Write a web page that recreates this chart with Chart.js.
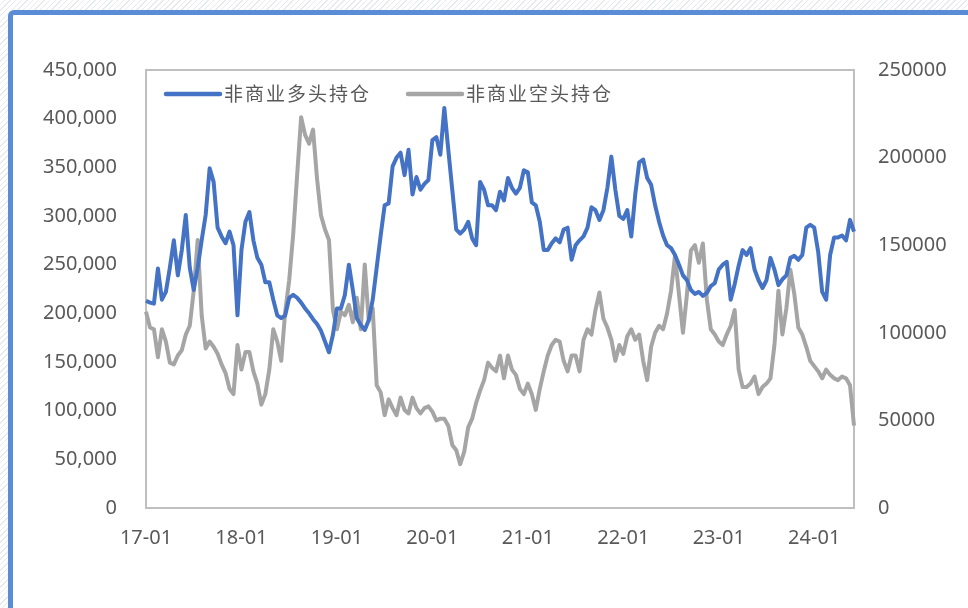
<!DOCTYPE html>
<html>
<head>
<meta charset="utf-8">
<script src="https://cdn.jsdelivr.net/npm/chart.js@4.4.1/dist/chart.umd.min.js"></script>
<style>
  html, body { margin: 0; padding: 0; }
  body {
    width: 968px; height: 608px; overflow: hidden; position: relative;
    background: repeating-linear-gradient(135deg, #ffffff 0 3px, #e6e9ee 3px 4px);
  }
  #frame {
    position: absolute; left: 8px; top: 10px; width: 990px; height: 640px;
    background: #fff; border: 5px solid #5b8cd6; border-radius: 6px;
    box-sizing: border-box;
  }
  #wrap { position: absolute; left: 0; top: 0; width: 968px; height: 608px; }
</style>
</head>
<body>
<div id="frame"></div>
<div id="wrap"><canvas id="cotChart"></canvas></div>
<script>
// half-month periods from 2017-01 to 2024-06
let periods = []
for (let y = 17; y <= 24; y++) {
  for (let m = 1; m <= 12; m++) {
    let mm = (m < 10 ? "0" : "") + m
    periods.push(y + "-" + mm)
    periods.push(y + "-" + mm + "b")
  }
}
periods = periods.slice(0, 179)

let tickLabels = ["17-01", "18-01", "19-01", "20-01", "21-01", "22-01", "23-01", "24-01"]

let longPos = [
  213000, 211000, 210000, 246000, 214000, 222000, 247000, 275000, 239000, 265000,
  301000, 247000, 224000, 247000, 275000, 301000, 349000, 335000, 288000, 279000,
  272000, 284000, 270000, 198000, 265000, 294000, 304000, 275000, 257000, 250000,
  232000, 232000, 214000, 198000, 195000, 198000, 216000, 219000, 216000, 211000,
  205000, 200000, 194000, 189000, 182000, 171000, 160000, 178000, 205000, 205000,
  219000, 250000, 224000, 195000, 188000, 183000, 193000, 214000, 247000, 280000,
  311000, 313000, 351000, 360000, 365000, 342000, 368000, 322000, 340000, 327000,
  333000, 337000, 378000, 381000, 363000, 411000, 368000, 327000, 286000, 282000,
  286000, 294000, 277000, 270000, 335000, 327000, 311000, 311000, 306000, 325000,
  316000, 339000, 329000, 323000, 329000, 347000, 345000, 314000, 311000, 294000,
  265000, 265000, 272000, 277000, 273000, 286000, 288000, 255000, 270000, 275000,
  279000, 288000, 309000, 306000, 296000, 306000, 329000, 361000, 327000, 300000,
  297000, 306000, 279000, 322000, 355000, 358000, 339000, 332000, 311000, 294000,
  280000, 270000, 267000, 260000, 250000, 239000, 234000, 224000, 220000, 222000,
  218000, 221000, 228000, 231000, 245000, 250000, 253000, 214000, 230000, 249000,
  265000, 260000, 267000, 245000, 234000, 226000, 234000, 257000, 245000, 229000,
  235000, 239000, 257000, 259000, 255000, 260000, 288000, 291000, 288000, 263000,
  222000, 214000, 260000, 278000, 278000, 280000, 275000, 296000, 284000
]

let shortPos = [
  112000, 103000, 102000, 86000, 102000, 95000, 83000, 82000, 87000, 90000,
  99000, 104000, 124000, 153000, 110000, 91000, 95000, 92000, 88000, 82000,
  77000, 68000, 65000, 93000, 79000, 89000, 89000, 78000, 71000, 59000,
  65000, 79000, 102000, 95000, 84000, 112000, 130000, 156000, 190000, 223000,
  213000, 208000, 216000, 188000, 167000, 159000, 153000, 113000, 102000, 112000,
  110000, 116000, 106000, 120000, 102000, 139000, 107000, 114000, 70000, 66000,
  53000, 62000, 57000, 53000, 63000, 56000, 54000, 63000, 57000, 54000,
  57000, 58000, 55000, 50000, 51000, 51000, 47000, 36000, 33000, 25000,
  32000, 46000, 51000, 60000, 67000, 73000, 83000, 80000, 78000, 87000,
  74000, 87000, 79000, 76000, 68000, 65000, 71000, 65000, 56000, 68000,
  78000, 87000, 93000, 96000, 95000, 84000, 78000, 87000, 87000, 78000,
  96000, 102000, 99000, 113000, 123000, 108000, 103000, 96000, 84000, 93000,
  88000, 98000, 102000, 96000, 99000, 84000, 73000, 92000, 100000, 104000,
  102000, 111000, 124000, 144000, 122000, 100000, 122000, 147000, 150000, 140000,
  151000, 119000, 102000, 99000, 95000, 93000, 99000, 104000, 113000, 79000,
  69000, 69000, 71000, 75000, 65000, 69000, 71000, 74000, 93000, 124000,
  99000, 114000, 136000, 122000, 103000, 99000, 92000, 84000, 81000, 78000,
  74000, 79000, 76000, 74000, 73000, 75000, 74000, 70000, 47000
]

let seriesNames = ["非商业多头持仓", "非商业空头持仓"]
let seriesColors = ["#4472c4", "#a5a5a5"]

let textColor = "#595959"
let numFont = { family: "'Noto Sans', sans-serif", size: 20 }

// box around the plot + legend drawn inside it
let boxAndLegend = {
  id: "boxAndLegend",
  beforeDatasetsDraw(chart) {
    let ctx = chart.ctx, a = chart.chartArea
    ctx.save()
    ctx.strokeStyle = "#bfbfbf"
    ctx.lineWidth = 2
    ctx.strokeRect(a.left, a.top, a.right - a.left, a.bottom - a.top)
    ctx.restore()
  },
  afterDraw(chart) {
    let ctx = chart.ctx, a = chart.chartArea
    let starts = [a.left + 20, a.left + 262]
    ctx.save()
    ctx.font = "19px 'Noto Sans CJK SC', sans-serif"
    ctx.textBaseline = "middle"
    chart.data.datasets.forEach((ds, i) => {
      let x = starts[i], y = a.top + 24
      ctx.strokeStyle = ds.borderColor
      ctx.lineWidth = 4.5
      ctx.lineCap = "round"
      ctx.beginPath()
      ctx.moveTo(x, y)
      ctx.lineTo(x + 54, y)
      ctx.stroke()
      ctx.fillStyle = textColor
      ctx.letterSpacing = "2px"
      ctx.fillText(ds.label, x + 58, y)
    })
    ctx.restore()
  }
}

let ctx = document.getElementById("cotChart").getContext("2d")
let cotChart = new Chart(ctx, {
  type: "line",
  data: {
    labels: periods,
    datasets: [
      {
        label: seriesNames[0],
        data: longPos,
        yAxisID: "y",
        borderColor: seriesColors[0],
        borderWidth: 4,
        pointRadius: 0,
        tension: 0,
        borderJoinStyle: "round"
      },
      {
        label: seriesNames[1],
        data: shortPos,
        yAxisID: "y1",
        borderColor: seriesColors[1],
        borderWidth: 4,
        pointRadius: 0,
        tension: 0,
        borderJoinStyle: "round"
      }
    ]
  },
  options: {
    responsive: true,
    maintainAspectRatio: false,
    animation: false,
    layout: { padding: { left: 20, right: 4, top: 70, bottom: 60 } },
    plugins: { legend: { display: false }, tooltip: { enabled: false } },
    scales: {
      x: {
        grid: { display: false, drawTicks: false },
        border: { display: false },
        afterFit(s) { s.height = 40 },
        ticks: {
          autoSkip: false,
          maxRotation: 0,
          padding: 18,
          color: textColor,
          font: numFont,
          callback: function (v) {
            let lbl = this.getLabelForValue(v)
            return tickLabels.includes(lbl) ? lbl : ""
          }
        }
      },
      y: {
        position: "left",
        min: 0, max: 450000,
        grid: { display: false, drawTicks: false },
        border: { display: false },
        afterFit(s) { s.width = 126 },
        ticks: {
          stepSize: 50000,
          padding: 29,
          color: textColor,
          font: numFont,
          callback: v => v.toLocaleString("en-US")
        }
      },
      y1: {
        position: "right",
        min: 0, max: 250000,
        grid: { display: false, drawTicks: false },
        border: { display: false },
        afterFit(s) { s.width = 110 },
        ticks: {
          stepSize: 50000,
          padding: 24,
          color: textColor,
          font: numFont,
          callback: v => String(v)
        }
      }
    }
  },
  plugins: [boxAndLegend]
})
</script>
</body>
</html>
